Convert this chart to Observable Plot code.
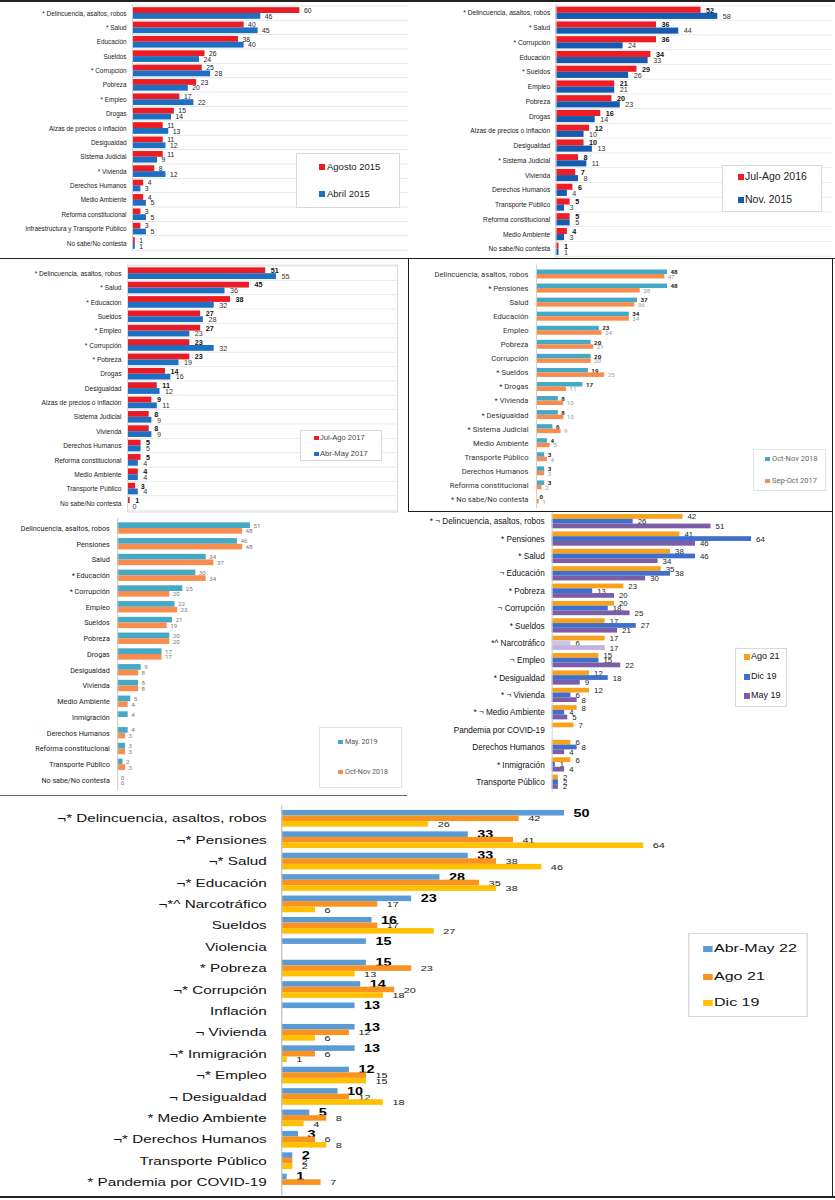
<!DOCTYPE html>
<html><head><meta charset="utf-8">
<script src="https://cdn.jsdelivr.net/npm/d3@7"></script>
<script src="https://cdn.jsdelivr.net/npm/@observablehq/plot@0.6"></script>
<style>
body{margin:0;background:#fff;}
#root{position:relative;width:835px;height:1200px;overflow:hidden;background:#fff;}
.legend{position:absolute;border:1px solid #d9d9d9;background:#fff;box-sizing:border-box;}
.li{position:absolute;white-space:nowrap;line-height:1;}
.sw{position:absolute;}
.ln{position:absolute;background:#222;}
</style></head><body><div id="root"></div>
<script>
// ---------- DATA ----------
// Panel 1
const p1Cats = ["* Delincuencia, asaltos, robos","* Salud","Educación","Sueldos","* Corrupción","Pobreza","* Empleo","Drogas","Alzas de precios o inflación","Desigualdad","Sistema Judicial","* Vivienda","Derechos Humanos","Medio Ambiente","Reforma constitucional","Infraestructura y Transporte Público","No sabe/No contesta"];
const p1Agosto2015 = [60,40,38,26,25,23,17,15,11,11,11,8,4,4,3,3,1];
const p1Abril2015 = [46,45,40,24,28,20,22,14,13,12,9,12,3,5,5,5,1];
// Panel 2
const p2Cats = ["* Delincuencia, asaltos, robos","* Salud","* Corrupción","Educación","* Sueldos","Empleo","Pobreza","Drogas","Alzas de precios o inflación","Desigualdad","* Sistema Judicial","Vivienda","Derechos Humanos","Transporte Público","Reforma constitucional","Medio Ambiente","No sabe/No contesta"];
const p2JulAgo2016 = [52,36,36,34,29,21,20,16,12,10,8,7,6,5,5,4,1];
const p2Nov2015 = [58,44,24,33,26,21,23,14,10,13,11,8,4,3,5,3,1];
// Panel 3
const p3Cats = ["* Delincuencia, asaltos, robos","* Salud","* Educación","Sueldos","* Empleo","* Corrupción","* Pobreza","Drogas","Desigualdad","Alzas de precios o inflación","Sistema Judicial","Vivienda","Derechos Humanos","Reforma constitucional","Medio Ambiente","Transporte Público","No sabe/No contesta"];
const p3JulAgo2017 = [51,45,38,27,27,23,23,14,11,9,8,8,5,5,4,3,1];
const p3AbrMay2017 = [55,36,32,28,23,32,19,16,12,11,9,9,5,4,4,4,0];
// Panel 4
const p4Cats = ["Delincuencia, asaltos, robos","* Pensiones","Salud","Educación","Empleo","Pobreza","Corrupción","* Sueldos","* Drogas","* Vivienda","* Desigualdad","* Sistema Judicial","Medio Ambiente","Transporte Público","Derechos Humanos","Reforma constitucional","* No sabe/No contesta"];
const p4OctNov2018 = [48,48,37,34,23,20,20,19,17,8,8,6,4,3,3,3,0];
const p4SepOct2017 = [47,38,36,34,24,21,20,25,11,10,10,9,5,4,3,2,1];
// Panel 5
const p5Cats = ["Delincuencia, asaltos, robos","Pensiones","Salud","* Educación","* Corrupción","Empleo","Sueldos","Pobreza","Drogas","Desigualdad","Vivienda","Medio Ambiente","Inmigración","Derechos Humanos","Reforma constitucional","Transporte Público","No sabe/No contesta"];
const p5May2019 = [51,46,34,30,25,22,21,20,17,9,8,5,4,4,3,2,0];
const p5OctNov2018 = [48,48,37,34,20,23,19,20,17,8,8,4,null,3,3,3,0];
// Panel 6
const p6Cats = ["* ¬ Delincuencia, asaltos, robos","* Pensiones","* Salud","¬ Educación","* Pobreza","¬ Corrupción","* Sueldos","*^ Narcotráfico","¬ Empleo","* Desigualdad","* ¬ Vivienda","* ¬ Medio Ambiente","Pandemia por COVID-19","Derechos Humanos","* Inmigración","Transporte Público"];
const p6Ago21 = [42,41,38,35,23,20,17,17,15,12,12,8,7,6,6,2];
const p6Dic19 = [26,64,46,38,13,18,27,6,15,18,6,4,null,8,1,2];
const p6May19 = [51,46,34,30,20,25,21,17,22,9,8,5,null,4,4,2];
const p6LightCats = ["*^ Narcotráfico"];
// Panel 7
const p7Cats = ["¬* Delincuencia, asaltos, robos","¬* Pensiones","¬* Salud","¬* Educación","¬*^ Narcotráfico","Sueldos","Violencia","* Pobreza","¬* Corrupción","Inflación","¬ Vivienda","¬* Inmigración","¬* Empleo","¬ Desigualdad","* Medio Ambiente","¬* Derechos Humanos","Transporte Público","* Pandemia por COVID-19"];
const p7AbrMay22 = [50,33,33,28,23,16,15,15,14,13,13,13,12,10,5,3,2,1];
const p7Ago21 = [42,41,38,35,17,17,null,23,20,null,12,6,15,12,8,6,2,7];
const p7Dic19 = [26,64,46,38,6,27,null,13,18,null,6,1,15,18,4,8,2,null];

// ---------- HELPERS ----------
const root = document.getElementById("root");

function panel(parent, cfg) {
  const {left, top, width, height, x0, ppu, c0, step, p, cats, series} = cfg;
  const n = cats.length, k = series.length;
  const marginLeft = x0 - left;
  const marginTop = c0 - top - step * (1 + p) / 2;
  const range = step * (n + p);
  const marginBottom = height - marginTop - range;
  const xmax = (width - marginLeft) / ppu;
  const bw = step * (1 - p), t = bw / k, g = step * p;
  const marks = [];
  if (cfg.sep) {
    const w = 0.8;
    marks.push(Plot.barX(cats, {y: d => d, x1: () => 0, x2: () => xmax, fill: cfg.sep,
      insetTop: bw + g / 2 - w / 2, insetBottom: -(g / 2 + w / 2)}));
    marks.push(Plot.barX([cats[0]], {y: d => d, x1: () => 0, x2: () => xmax, fill: cfg.sep,
      insetTop: -(g / 2 + w / 2), insetBottom: bw + g / 2 - w / 2}));
  }
  series.forEach((s, j) => {
    const rows = cats.map((c, i) => ({cat: c, v: s.values[i]})).filter(d => d.v != null);
    const light = s.lightCats || [];
    const normalRows = rows.filter(d => !light.includes(d.cat));
    const lightRows = rows.filter(d => light.includes(d.cat));
    const inset = {insetTop: j * t, insetBottom: (k - 1 - j) * t};
    marks.push(Plot.barX(normalRows, {y: "cat", x1: () => 0, x2: "v", fill: s.color, ...inset}));
    if (lightRows.length) marks.push(Plot.barX(lightRows, {y: "cat", x1: () => 0, x2: "v", fill: s.light, ...inset}));
    marks.push(Plot.text(rows, {y: "cat", x: "v", text: d => String(d.v), dx: cfg.valDx,
      dy: (j - (k - 1) / 2) * t, textAnchor: "start", fontSize: s.valSize || cfg.valSize,
      fontWeight: s.bold ? "bold" : "normal", fill: s.textColor || "#222", fontFamily: cfg.font}));
  });
  if (cfg.axisLine) marks.push(Plot.ruleX([0], {stroke: cfg.axisLine, strokeWidth: 1}));
  if (cfg.frame) marks.push(Plot.frame({stroke: cfg.frame}));
  const svg = Plot.plot({
    width, height, marginLeft, marginRight: 0, marginTop, marginBottom,
    x: {domain: [0, xmax], axis: null},
    y: {domain: cats, padding: p, align: 0.5, round: false, axis: "left", tickSize: 0, tickPadding: cfg.gap, label: null},
    style: {background: "transparent", fontFamily: cfg.font, fontSize: cfg.catSize + "px", color: cfg.catColor || "#222", overflow: "visible"},
    marks
  });
  svg.style.position = "absolute";
  svg.style.left = left + "px";
  svg.style.top = top + "px";
  svg.style.maxWidth = "none";
  parent.appendChild(svg);
}

function legend(parent, box, entries, o) {
  const d = document.createElement("div");
  d.className = "legend";
  Object.assign(d.style, {left: box[0] + "px", top: box[1] + "px", width: (box[2] - box[0]) + "px", height: (box[3] - box[1]) + "px", borderColor: o.border || "#d9d9d9"});
  parent.appendChild(d);
  entries.forEach(e => {
    const sw = document.createElement("div");
    sw.className = "sw";
    Object.assign(sw.style, {left: (o.sx - box[0] - 1) + "px", top: (e.cy - o.sh / 2 - box[1] - 1) + "px", width: o.sw + "px", height: o.sh + "px", background: e.color});
    d.appendChild(sw);
    const tx = document.createElement("div");
    tx.className = "li";
    tx.textContent = e.label;
    Object.assign(tx.style, {left: (o.tx - box[0] - 1) + "px", top: (e.cy - o.fs * 0.55 - box[1] - 1) + "px", fontSize: o.fs + "px", fontFamily: o.font, color: o.color || "#222"});
    d.appendChild(tx);
  });
}

function line(x, y, w, h, color) {
  const d = document.createElement("div");
  d.className = "ln";
  Object.assign(d.style, {left: x + "px", top: y + "px", width: w + "px", height: h + "px", background: color || "#222"});
  root.appendChild(d);
}

const AR = "'Liberation Sans', Arial, sans-serif";
const RB = "Roboto, 'Liberation Sans', sans-serif";

// ---------- PANEL 1 ----------
const c1 = {red: "#ec1c24", blue: "#1d6fc2"};
panel(root, {left: 0, top: 0, width: 408, height: 258, x0: 132, ppu: 2.79, c0: 13, step: 14.375, p: 0.19,
  cats: p1Cats, font: AR, catSize: 6.4, valSize: 6.8, valDx: 4, gap: 6, sep: "#e3e3e3", axisLine: "#cfcfcf",
  series: [{values: p1Agosto2015, color: c1.red}, {values: p1Abril2015, color: c1.blue}]});
legend(root, [296, 153, 400, 208], [{label: "Agosto 2015", color: c1.red, cy: 167}, {label: "Abril 2015", color: c1.blue, cy: 194}],
  {sx: 319, tx: 327, sw: 6, sh: 6, fs: 9.5, font: AR});

// ---------- PANEL 2 ----------
const c2 = {red: "#ee1c24", blue: "#155bb0"};
panel(root, {left: 410, top: 0, width: 423, height: 258, x0: 555.7, ppu: 2.786, c0: 12.8, step: 14.75, p: 0.17,
  cats: p2Cats, font: AR, catSize: 6.6, valSize: 7.2, valDx: 5, gap: 6, sep: "#e6e6e6", axisLine: "#c8c8c8",
  series: [{values: p2JulAgo2016, color: c2.red, bold: true, textColor: "#111"}, {values: p2Nov2015, color: c2.blue, textColor: "#333"}]});
legend(root, [722, 165, 822, 212], [{label: "Jul-Ago 2016", color: c2.red, cy: 177}, {label: "Nov. 2015", color: c2.blue, cy: 200}],
  {sx: 738, tx: 745, sw: 6, sh: 6, fs: 10.5, font: AR});

// ---------- PANEL 3 ----------
const c3 = {red: "#ea1b24", blue: "#1f6fc3"};
panel(root, {left: 0, top: 259, width: 397, height: 256, x0: 127, ppu: 2.71, c0: 273.2, step: 14.36, p: 0.19,
  cats: p3Cats, font: AR, catSize: 6.6, valSize: 7.2, valDx: 5, gap: 6, sep: "#e6e6e6", frame: "#dadada",
  series: [{values: p3JulAgo2017, color: c3.red, bold: true, textColor: "#111"}, {values: p3AbrMay2017, color: c3.blue, textColor: "#333"}]});
legend(root, [300, 430, 382, 461], [{label: "Jul-Ago 2017", color: c3.red, cy: 438}, {label: "Abr-May 2017", color: c3.blue, cy: 454}],
  {sx: 314, tx: 320, sw: 4.5, sh: 4.5, fs: 7.6, font: AR, color: "#444"});

// ---------- PANEL 4 ----------
const c4 = {teal: "#44a8c7", orange: "#f68d4e"};
panel(root, {left: 410, top: 262, width: 422, height: 250, x0: 536, ppu: 2.73, c0: 274, step: 14.06, p: 0.36,
  cats: p4Cats, font: RB, catSize: 7.6, valSize: 6.2, valDx: 3, gap: 8, axisLine: "#d0d0d0", catColor: "#333",
  series: [{values: p4OctNov2018, color: c4.teal, bold: true, textColor: "#222"}, {values: p4SepOct2017, color: c4.orange, textColor: "#999"}]});
legend(root, [753, 449, 826, 491], [{label: "Oct-Nov 2018", color: c4.teal, cy: 459}, {label: "Sep-Oct 2017", color: c4.orange, cy: 481}],
  {sx: 765, tx: 772, sw: 4.5, sh: 4.5, fs: 7.5, font: RB, color: "#666", border: "#e2e2e2"});

// ---------- PANEL 5 ----------
panel(root, {left: 0, top: 515, width: 405, height: 280, x0: 117.3, ppu: 2.6, c0: 528, step: 15.75, p: 0.28,
  cats: p5Cats, font: RB, catSize: 7.2, valSize: 6.2, valDx: 3, gap: 8, axisLine: "#c8c8c8", catColor: "#222",
  series: [{values: p5May2019, color: c4.teal, textColor: "#777"}, {values: p5OctNov2018, color: c4.orange, textColor: "#777"}]});
legend(root, [319, 727, 402, 788], [{label: "May. 2019", color: c4.teal, cy: 742}, {label: "Oct-Nov 2018", color: c4.orange, cy: 772}],
  {sx: 338, tx: 345, sw: 4.5, sh: 4.5, fs: 7.1, font: RB, color: "#555", border: "#e2e2e2"});

// ---------- PANEL 6 ----------
const c6 = {orange: "#f8a21c", blue: "#3e6fca", purple: "#7c5ea8", lightBlue: "#c4c8e6", lightPurple: "#c2b2dc"};
panel(root, {left: 410, top: 510, width: 422, height: 284, x0: 551.7, ppu: 3.115, c0: 521.2, step: 17.37, p: 0.18,
  cats: p6Cats, font: AR, catSize: 8.2, valSize: 7.8, valDx: 4.5, gap: 7.5, axisLine: "#cfcfcf", catColor: "#111",
  series: [{values: p6Ago21, color: c6.orange},
           {values: p6Dic19, color: c6.blue, lightCats: p6LightCats, light: c6.lightBlue},
           {values: p6May19, color: c6.purple, lightCats: p6LightCats, light: c6.lightPurple}]});
legend(root, [735, 648, 787, 707], [{label: "Ago 21", color: c6.orange, cy: 657}, {label: "Dic 19", color: c6.blue, cy: 677}, {label: "May 19", color: c6.purple, cy: 696}],
  {sx: 744, tx: 751, sw: 5.5, sh: 5.5, fs: 9, font: AR, color: "#111"});

// ---------- PANEL 7 (horizontally stretched, as in the source) ----------
const S7 = 1.36;
const c7 = document.createElement("div");
Object.assign(c7.style, {position: "absolute", left: "0px", top: "0px", width: (835 / S7) + "px", height: "1200px", transform: `scaleX(${S7})`, transformOrigin: "0 0"});
root.appendChild(c7);
const col7 = {blue: "#5b9bd5", orange: "#f7931e", yellow: "#ffc000"};
panel(c7, {left: 0, top: 797, width: 832 / S7, height: 400, x0: 281 / S7, ppu: 5.66 / S7, c0: 818.3, step: 21.4, p: 0.22,
  cats: p7Cats, font: AR, catSize: 11.2, valSize: 8, valDx: 6.5, gap: 11, axisLine: "#c4c4c4", catColor: "#111",
  series: [{values: p7AbrMay22, color: col7.blue, bold: true, valSize: 10.6, textColor: "#000"},
           {values: p7Ago21, color: col7.orange, textColor: "#222"},
           {values: p7Dic19, color: col7.yellow, textColor: "#222"}]});
legend(c7, [688 / S7, 933, 808 / S7, 1017], [{label: "Abr-May 22", color: col7.blue, cy: 949}, {label: "Ago 21", color: col7.orange, cy: 977}, {label: "Dic 19", color: col7.yellow, cy: 1003}],
  {sx: 703 / S7, tx: 714 / S7, sw: 9 / S7, sh: 5.5, fs: 11.8, font: AR, color: "#111"});

// ---------- collage borders ----------
line(0, 0, 835, 1.5, "#222");
line(0, 257.5, 835, 1.5, "#222");
const b4 = document.createElement("div");
Object.assign(b4.style, {position: "absolute", left: "408px", top: "258px", width: "425px", height: "254px", border: "1.5px solid #1a1a1a", boxSizing: "border-box"});
root.appendChild(b4);
line(831.5, 512, 1.5, 686, "#222");
line(0, 795, 407, 1, "#666");
line(0, 1196, 835, 2, "#222");
</script>
</body></html>
